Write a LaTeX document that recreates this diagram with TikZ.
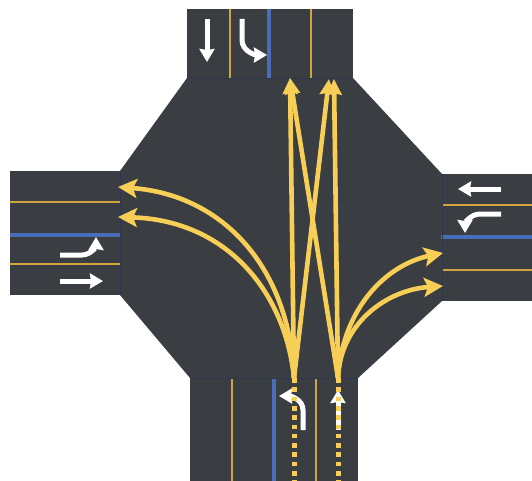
\documentclass[tikz,border=0pt]{standalone}
\usepackage{tikz}
\usetikzlibrary{arrows.meta}
\definecolor{roadgrey}{HTML}{3A3D41}
\definecolor{laneyellow}{HTML}{D0A53C}
\definecolor{laneblue}{HTML}{4A6DB8}
\definecolor{flowyellow}{HTML}{F8CF56}
\definecolor{stopnavy}{HTML}{2B3850}
\begin{document}
\begin{tikzpicture}[
    x=1pt, y=-1pt,
    road/.style={fill=roadgrey, draw=none},
    lane/.style={draw=laneyellow, line width=2.6pt},
    median/.style={draw=laneblue, line width=4.4pt},
    stopline/.style={draw=stopnavy, line width=0.8pt},
    flow/.style={draw=flowyellow, line width=4.6pt, -{Stealth[length=19pt, width=19pt, inset=4pt]}},
    flowup/.style={draw=flowyellow, line width=4.6pt, -{Stealth[length=16pt, width=15pt, inset=2pt]}},
    walk/.style={draw=flowyellow, line width=5pt, dash pattern=on 4.6pt off 4.7pt},
    sign/.style={draw=white, line width=5pt, -{Stealth[length=13pt, width=15pt, inset=1pt]}}
]
\useasboundingbox (0,0) rectangle (532,481);

% Define road surface
\fill[road] (187,78) -- (353,78) -- (442,174) -- (442,301) -- (358,378) -- (190,378) -- (120,295) -- (120,171) -- cycle;
\fill[road] (187,9) rectangle (353,79);
\fill[road] (190,377) rectangle (358,481);
\fill[road] (10,171) rectangle (121,295);
\fill[road] (441,174) rectangle (532,301);

% Define lane lines
\draw[lane] (230,9) -- (230,78);
\draw[lane] (311,9) -- (311,78);
\draw[median] (269,9) -- (269,78);
\draw[lane] (232,378) -- (232,481);
\draw[lane] (316,378) -- (316,481);
\draw[median] (274,378) -- (274,481);
\draw[lane] (10,202) -- (120,202);
\draw[lane] (10,264) -- (120,264);
\draw[median] (10,235) -- (121,235);
\draw[lane] (442,205) -- (532,205);
\draw[lane] (442,270) -- (532,270);
\draw[median] (441,237) -- (532,237);

% Stop lines
\draw[stopline] (187,78) -- (353,78);
\draw[stopline] (190,378) -- (358,378);
\draw[stopline] (120,171) -- (120,295);
\draw[stopline] (442,174) -- (442,301);

% Lane signs
\coordinate (sN1a) at (207,19);
\coordinate (sN1b) at (207,62);
\draw[sign] (sN1a) -- (sN1b);
\coordinate (sN2a) at (242,19);
\coordinate (sN2b) at (267,55);
\draw[sign] (sN2a) -- (242,40) to[out=270, in=180] (sN2b);
\coordinate (sS1a) at (303,430);
\coordinate (sS1b) at (279,396);
\draw[sign] (sS1a) -- (303,410) to[out=90, in=0] (sS1b);
\coordinate (sS2a) at (338,430);
\coordinate (sS2b) at (338,390);
\draw[sign] (sS2a) -- (sS2b);
\coordinate (sW1a) at (60,255);
\coordinate (sW1b) at (96,237);
\draw[sign] (sW1a) -- (82,255) to[out=0, in=270] (sW1b);
\coordinate (sW2a) at (60,281);
\coordinate (sW2b) at (103,281);
\draw[sign] (sW2a) -- (sW2b);
\coordinate (sE1a) at (501,189);
\coordinate (sE1b) at (458,189);
\draw[sign] (sE1a) -- (sE1b);
\coordinate (sE2a) at (501,214);
\coordinate (sE2b) at (465,233);
\draw[sign] (sE2a) -- (480,214) to[out=180, in=90] (sE2b);

% Define flow points
\coordinate (SL) at (294,378);
\coordinate (ST) at (338,378);
\coordinate (SLend) at (294,481);
\coordinate (STend) at (338,481);
\coordinate (NA) at (290,78);
\coordinate (NB) at (329,79);
\coordinate (NC) at (334,79);
\coordinate (WA) at (118,187);
\coordinate (WB) at (118,217);
\coordinate (EA) at (443,253);
\coordinate (EB) at (443,286);

% Dotted approach paths
\draw[walk] (SL) -- (SLend);
\draw[walk] (ST) -- (STend);

% Crossing movements
\draw[flowup] (SL) -- (NA);
\draw[flowup] (SL) -- (NB);
\draw[flowup] (ST) -- (NA);
\draw[flowup] (ST) -- (NC);

% Turning movements
\draw[flow] (SL) .. controls (290,270) and (225,195) .. (WA);
\draw[flow] (SL) .. controls (285,290) and (225,220) .. (WB);
\draw[flow] (ST) .. controls (342,310) and (385,265) .. (EA);
\draw[flow] (ST) .. controls (340,325) and (385,290) .. (EB);

\end{tikzpicture}
\end{document}
